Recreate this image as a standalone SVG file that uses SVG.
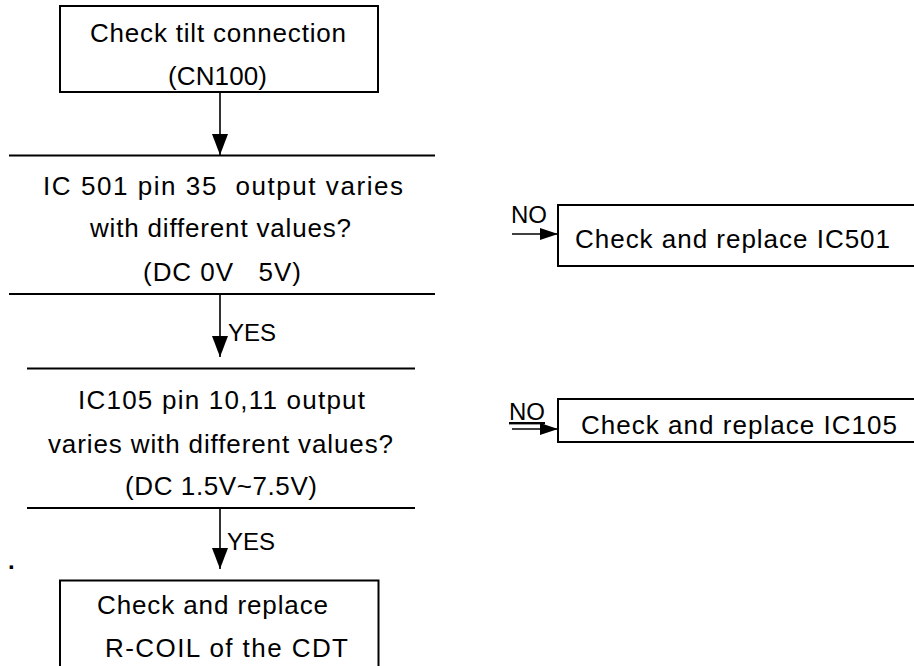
<svg xmlns="http://www.w3.org/2000/svg" width="914" height="666" viewBox="0 0 914 666">
<defs>
<style>
text{font-family:"Liberation Sans",Arial,sans-serif;fill:#000}
.t{font-size:26px}
.l{font-size:24px}
.box{fill:#fff;stroke:#000;stroke-width:2}
.sep{stroke:#000;stroke-width:2}
.con{stroke:#000;stroke-width:1.6;fill:none}
</style>
<marker id="ah" markerUnits="userSpaceOnUse" markerWidth="21" markerHeight="16" refX="21" refY="8" orient="auto">
<path d="M0,0 L21,8 L0,16 z" fill="#000"/>
</marker>
<marker id="ahs" markerUnits="userSpaceOnUse" markerWidth="18" markerHeight="12" refX="18" refY="6" orient="auto">
<path d="M0,0 L18,6 L0,12 z" fill="#000"/>
</marker>
</defs>
<rect width="914" height="666" fill="#fff"/>

<g id="start">
<rect class="box" x="60" y="6" width="318" height="86"/>
<text class="t" x="90" y="42" textLength="256" lengthAdjust="spacing">Check tilt connection</text>
<text class="t" x="168" y="85" textLength="99" lengthAdjust="spacing">(CN100)</text>
</g>

<g id="decision1">
<line class="sep" x1="9" y1="155.5" x2="435" y2="155.5"/>
<line class="sep" x1="9" y1="294" x2="435" y2="294"/>
<text class="t" x="43" y="195" textLength="360" lengthAdjust="spacing" xml:space="preserve">IC 501 pin 35  output varies</text>
<text class="t" x="90" y="237" textLength="261" lengthAdjust="spacing">with different values?</text>
<text class="t" x="143" y="281" textLength="158" lengthAdjust="spacing" xml:space="preserve">(DC 0V   5V)</text>
</g>

<g id="decision2">
<line class="sep" x1="27" y1="368.5" x2="415" y2="368.5"/>
<line class="sep" x1="27" y1="508" x2="415" y2="508"/>
<text class="t" x="78" y="409" textLength="287" lengthAdjust="spacing">IC105 pin 10,11 output</text>
<text class="t" x="48" y="453" textLength="345" lengthAdjust="spacing">varies with different values?</text>
<text class="t" x="125" y="495" textLength="192" lengthAdjust="spacing">(DC 1.5V~7.5V)</text>
</g>

<g id="end">
<rect class="box" x="60" y="580.5" width="318.5" height="100"/>
<text class="t" x="97" y="614" textLength="231" lengthAdjust="spacing">Check and replace</text>
<text class="t" x="105" y="657" textLength="243" lengthAdjust="spacing">R-COIL of the CDT</text>
</g>

<g id="replace-ic501">
<rect class="box" x="558" y="205" width="400" height="61"/>
<text class="t" x="575" y="248" textLength="315" lengthAdjust="spacing">Check and replace IC501</text>
</g>

<g id="replace-ic105">
<rect class="box" x="558" y="399" width="400" height="43"/>
<text class="t" x="581" y="434" textLength="316" lengthAdjust="spacing">Check and replace IC105</text>
</g>

<g id="connectors">
<line class="con" x1="220" y1="92" x2="220" y2="155" marker-end="url(#ah)"/>
<line class="con" x1="220" y1="294" x2="220" y2="357" marker-end="url(#ah)"/>
<text class="l" x="228" y="341">YES</text>
<line class="con" x1="220" y1="508" x2="220" y2="569" marker-end="url(#ah)"/>
<text class="l" x="227" y="550">YES</text>
<line class="con" x1="512" y1="234" x2="558" y2="234" marker-end="url(#ahs)"/>
<text class="l" x="511" y="223">NO</text>
<line class="con" x1="512" y1="429" x2="558" y2="429" marker-end="url(#ahs)"/>
<text class="l" x="509" y="420" text-decoration="underline">NO</text>
</g>

<text class="l" x="8" y="569" font-weight="bold">.</text>
</svg>
